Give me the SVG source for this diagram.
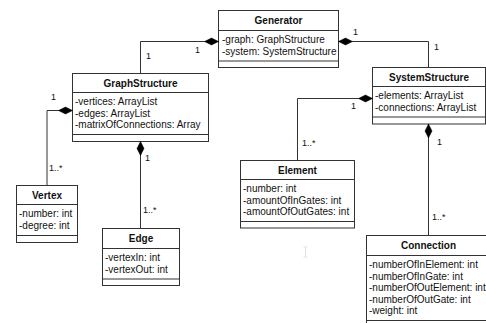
<svg xmlns="http://www.w3.org/2000/svg" width="486" height="323" viewBox="0 0 486 323">
  <style>
    .box { fill: #ffffff; stroke: #333333; stroke-width: 1; }
    .sep { stroke: #333333; stroke-width: 1; }
    .title { font-family: "Liberation Sans", Arial, sans-serif; font-size: 10px; font-weight: bold; fill: #111111; text-anchor: middle; }
    .attr { font-family: "Liberation Sans", Arial, sans-serif; font-size: 10px; fill: #111111; }
    .mult { font-family: "Liberation Sans", Arial, sans-serif; font-size: 9px; fill: #111111; }
    .conn { fill: none; stroke: #333333; stroke-width: 1; marker-start: url(#composition); }
  </style>
  <defs>
    <marker id="composition" markerUnits="userSpaceOnUse" markerWidth="15" markerHeight="8" refX="0" refY="3.5" orient="auto" overflow="visible">
      <path d="M0,3.5 L7,0 L14,3.5 L7,7 Z" fill="#000000" stroke="#000000" stroke-width="0.5"/>
    </marker>
  </defs>

  <rect width="486" height="323" fill="#ffffff"/>

  <!-- Generator -->
  <g id="generator">
    <rect class="box" x="218.5" y="10.5" width="120" height="57"/>
    <line class="sep" x1="218.5" y1="30.5" x2="338.5" y2="30.5"/>
    <line class="sep" x1="218.5" y1="61" x2="338.5" y2="61"/>
    <text class="title" x="278.5" y="24">Generator</text>
    <text class="attr" x="222" y="43">-graph: GraphStructure</text>
    <text class="attr" x="222" y="54.5">-system: SystemStructure</text>
  </g>

  <!-- GraphStructure -->
  <g id="graphstructure">
    <rect class="box" x="72.5" y="73.5" width="136" height="68"/>
    <line class="sep" x1="72.5" y1="92.5" x2="208.5" y2="92.5"/>
    <line class="sep" x1="72.5" y1="134.5" x2="208.5" y2="134.5"/>
    <text class="title" x="140.5" y="87">GraphStructure</text>
    <text class="attr" x="75" y="105">-vertices: ArrayList</text>
    <text class="attr" x="75" y="116.5">-edges: ArrayList</text>
    <text class="attr" x="75" y="128">-matrixOfConnections: Array</text>
  </g>

  <!-- SystemStructure -->
  <g id="systemstructure">
    <rect class="box" x="372.5" y="67.5" width="113" height="56.5"/>
    <line class="sep" x1="372.5" y1="86.5" x2="485.5" y2="86.5"/>
    <line class="sep" x1="372.5" y1="117" x2="485.5" y2="117"/>
    <text class="title" x="429" y="81">SystemStructure</text>
    <text class="attr" x="375" y="99">-elements: ArrayList</text>
    <text class="attr" x="375" y="110.5">-connections: ArrayList</text>
  </g>

  <!-- Vertex -->
  <g id="vertex">
    <rect class="box" x="16.5" y="185.5" width="61" height="57"/>
    <line class="sep" x1="16.5" y1="204.5" x2="77.5" y2="204.5"/>
    <line class="sep" x1="16.5" y1="235.5" x2="77.5" y2="235.5"/>
    <text class="title" x="47" y="199">Vertex</text>
    <text class="attr" x="19" y="217">-number: int</text>
    <text class="attr" x="19" y="228.5">-degree: int</text>
  </g>

  <!-- Edge -->
  <g id="edge">
    <rect class="box" x="102.5" y="228.5" width="77" height="57"/>
    <line class="sep" x1="102.5" y1="248.5" x2="179.5" y2="248.5"/>
    <line class="sep" x1="102.5" y1="279" x2="179.5" y2="279"/>
    <text class="title" x="141" y="242">Edge</text>
    <text class="attr" x="105" y="261">-vertexIn: int</text>
    <text class="attr" x="105" y="272.5">-vertexOut: int</text>
  </g>

  <!-- Element -->
  <g id="element">
    <rect class="box" x="240.5" y="160.5" width="114" height="67.5"/>
    <line class="sep" x1="240.5" y1="179.5" x2="354.5" y2="179.5"/>
    <line class="sep" x1="240.5" y1="221.5" x2="354.5" y2="221.5"/>
    <text class="title" x="297.5" y="173.5">Element</text>
    <text class="attr" x="243" y="192">-number: int</text>
    <text class="attr" x="243" y="203.5">-amountOfInGates: int</text>
    <text class="attr" x="243" y="215">-amountOfOutGates: int</text>
  </g>

  <!-- Connection -->
  <g id="connection">
    <rect class="box" x="366.5" y="235.5" width="124" height="92"/>
    <line class="sep" x1="366.5" y1="255.5" x2="490.5" y2="255.5"/>
    <line class="sep" x1="366.5" y1="320.5" x2="490.5" y2="320.5"/>
    <text class="title" x="428.5" y="249">Connection</text>
    <text class="attr" x="369" y="268">-numberOfInElement: int</text>
    <text class="attr" x="369" y="279.5">-numberOfInGate: int</text>
    <text class="attr" x="369" y="291">-numberOfOutElement: int</text>
    <text class="attr" x="369" y="302.5">-numberOfOutGate: int</text>
    <text class="attr" x="369" y="314">-weight: int</text>
  </g>

  <!-- composition links, diamond at the owning class -->
  <g id="connectors">
    <path class="conn" d="M218.5,41.5 H140.5 V73.5"/>
    <path class="conn" d="M338.5,41.5 H428.5 V67.5"/>
    <path class="conn" d="M72.5,110.5 H47 V185.5"/>
    <path class="conn" d="M140.5,141.5 V228.5"/>
    <path class="conn" d="M372.5,98.5 H297.5 V160.5"/>
    <path class="conn" d="M428.5,124 V235.5"/>

    <text class="mult" x="195" y="53">1</text>
    <text class="mult" x="146" y="59">1</text>
    <text class="mult" x="353" y="35">1</text>
    <text class="mult" x="434" y="50">1</text>
    <text class="mult" x="51" y="100">1</text>
    <text class="mult" x="49" y="171">1..*</text>
    <text class="mult" x="145" y="161">1</text>
    <text class="mult" x="143" y="213">1..*</text>
    <text class="mult" x="351" y="109">1</text>
    <text class="mult" x="302" y="146">1..*</text>
    <text class="mult" x="437" y="145">1</text>
    <text class="mult" x="432" y="220">1..*</text>
  </g>

  <!-- faint text cursor mark -->
  <path d="M305.5,247 V257 M303.5,247 H307.5 M303.5,257 H307.5" stroke="#e2e2e2" stroke-width="1" fill="none"/>
</svg>
